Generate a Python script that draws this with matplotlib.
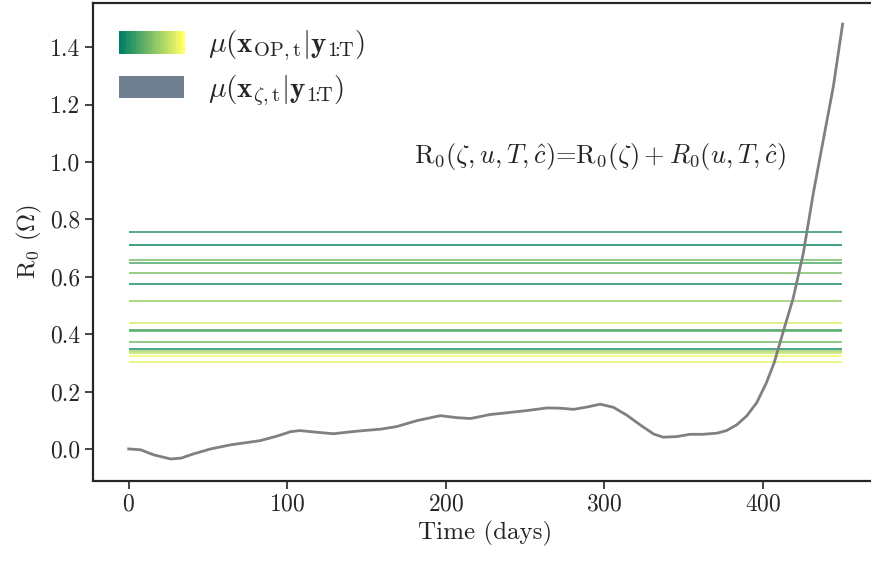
import matplotlib
matplotlib.use('Agg')
import matplotlib.pyplot as plt
from matplotlib.legend_handler import HandlerBase
from matplotlib.patches import Rectangle, Patch
import numpy as np

plt.rcParams.update({'font.family': 'serif',
'font.serif': ['cmr10'],
'mathtext.fontset': 'cm',
'axes.formatter.use_mathtext': True,
'axes.unicode_minus': False,
'axes.labelsize': 18,
'xtick.labelsize': 17,
'ytick.labelsize': 17,
'text.color': '.15',
'axes.labelcolor': '.15',
'xtick.color': '.15',
'ytick.color': '.15'})

# fitted R0 of the operating-point terms (one horizontal line each)
OP_LEVELS = [0.755, 0.710, 0.660, 0.647, 0.613, 0.574, 0.515, 0.440,
             0.416, 0.410, 0.372, 0.348, 0.340, 0.334, 0.325, 0.303]
OP_SHADES = [0.15, 0.05, 0.45, 0.30, 0.50, 0.12, 0.60, 0.85,
             0.25, 0.35, 0.45, 0.10, 0.65, 0.75, 0.95, 0.90]
OP_T0, OP_T1 = 0, 450

# zeta-dependent R0 over time
DAYS = [0, 7.5, 16, 26.5, 33, 41, 51.7, 64, 83, 93.7, 102, 108, 119, 129,
        144, 159, 169, 182, 196.5, 207, 215.5, 228, 235, 250, 264, 272,
        280.5, 289, 297.3, 305.7, 314, 322.5, 331, 337, 345.6, 354, 362,
        371, 377, 383.4, 389.7, 396, 402, 407, 412, 419, 425.4, 431.7, 438,
        444.3, 450.2]
R0_ZETA = [0.000, -0.003, -0.021, -0.035, -0.032, -0.017, 0.000, 0.014,
           0.029, 0.045, 0.060, 0.064, 0.058, 0.053, 0.062, 0.069, 0.078,
           0.099, 0.116, 0.109, 0.106, 0.120, 0.124, 0.133, 0.143, 0.142,
           0.138, 0.146, 0.156, 0.145, 0.118, 0.084, 0.052, 0.041, 0.043,
           0.051, 0.051, 0.055, 0.064, 0.084, 0.115, 0.161, 0.229, 0.300,
           0.395, 0.525, 0.682, 0.891, 1.077, 1.262, 1.481]

CMAP = plt.get_cmap('summer')

# ----------------------------------------------------------------------------------------------------
class GradientHandler(HandlerBase):

    def create_artists(self, legend, orig_handle, xdescent, ydescent, width, height, fontsize, trans):
        n = 24
        return [Rectangle((-xdescent + i * width / n, -ydescent), width / n + 0.3, height,
                          facecolor=CMAP(i / (n - 1)), edgecolor='none', transform=trans)
                for i in range(n)]

# ----------------------------------------------------------------------------------------------------
def plot_R0():

    fig = plt.figure(figsize=(8.71, 5.61), dpi=100)
    ax = fig.add_axes([93 / 871, 80.5 / 561, 785 / 871, 478 / 561])

    ax.hlines(OP_LEVELS, OP_T0, OP_T1, colors=[CMAP(s) for s in OP_SHADES], linewidth=1.3, alpha=0.85)
    ax.plot(DAYS, R0_ZETA, color='gray', linewidth=2)

    ax.set_xlim(-22.5, 472.5)
    ax.set_ylim(-0.110, 1.556)
    ax.set_xticks([0, 100, 200, 300, 400])
    ax.set_yticks(np.arange(0, 1.41, 0.2))
    ax.set_yticklabels([f'{v:.1f}' for v in np.arange(0, 1.41, 0.2)])
    for s in ax.spines.values():
        s.set_color('.15')
        s.set_linewidth(1.6)
    ax.tick_params(direction='out', length=6, width=1.2)

    ax.set_xlabel('Time (days)')
    ax.set_ylabel(r'$\mathrm{R}_0$ ($\Omega$)')

    ax.text(180, 1.02, r'$\mathrm{R}_0(\zeta, u, T, \hat{c})$=$\mathrm{R}_0(\zeta) + R_0(u, T, \hat{c})$',
            fontsize=19, va='center')

    op_handle = Patch(label='op')
    zeta_handle = Patch(facecolor='slategray', edgecolor='none')
    ax.legend([op_handle, zeta_handle],
              [r'$\mu(\mathbf{x}_{\mathrm{OP,t}}|\mathbf{y}_{1\!\!:\!\!\mathrm{T}})$',
               r'$\mu(\mathbf{x}_{\zeta,\mathrm{t}}|\mathbf{y}_{1\!\!:\!\!\mathrm{T}})$'],
              handler_map={op_handle: GradientHandler()},
              loc='upper left', frameon=False, fontsize=21, handlelength=2.23, handleheight=0.8,
              handletextpad=0.8, labelspacing=0.35, borderaxespad=0.5)

    fig.savefig('out.png', dpi=100)

# ----------------------------------------------------------------------------------------------------
if __name__ == '__main__':

    plot_R0()
